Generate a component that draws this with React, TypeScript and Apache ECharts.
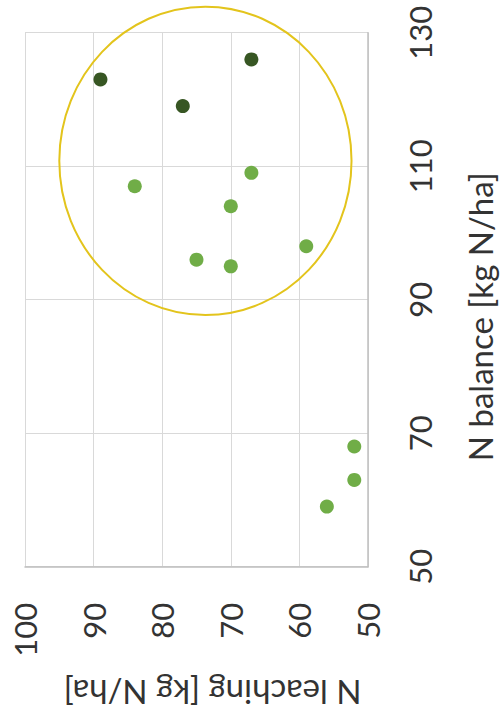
import React, { useEffect, useRef } from "react";
import * as echarts from "echarts";

// [N leaching, N balance] in kg N/ha
const darkPoints: number[][] = [
  [89, 123],
  [67, 126],
  [77, 119],
];
const lightPoints: number[][] = [
  [84, 107],
  [67, 109],
  [70, 104],
  [59, 98],
  [75, 96],
  [70, 95],
  [52, 68],
  [52, 63],
  [56, 59],
];
// highlight ellipse: [centre leaching, centre balance, radius leaching, radius balance]
const highlight: number[][] = [[73.7, 110.8, 21.3, 23.1]];

const leachingTicks = { min: 50, max: 100, interval: 10 };
const balanceTicks = { min: 50, max: 130, interval: 20 };

const FONT = "Lato";
const LABEL_COLOR = "#333333";

export default function App() {
  const ref = useRef<HTMLDivElement>(null);
  useEffect(() => {
    if (!ref.current) return;
    const chart = echarts.init(ref.current, null, { renderer: "svg" });
    chart.setOption({
      animation: false,
      backgroundColor: "#ffffff",
      grid: { left: 25, top: 32.7, right: 127, bottom: 153.3, containLabel: false },
      xAxis: {
        type: "value",
        ...leachingTicks,
        inverse: true,
        position: "bottom",
        name: "N leaching [kg N/ha]",
        nameLocation: "middle",
        nameRotate: 180,
        nameGap: 110,
        nameTextStyle: { fontFamily: FONT, fontSize: 33, color: LABEL_COLOR, padding: [0, 32, 0, 0] },
        axisLine: { show: true, lineStyle: { color: "#BFBFBF", width: 1.5 } },
        axisTick: { show: false },
        axisLabel: { rotate: 90, margin: 36, fontFamily: FONT, fontSize: 31, color: LABEL_COLOR },
        splitLine: { show: true, lineStyle: { color: "#D9D9D9", width: 1 } },
      },
      yAxis: {
        type: "value",
        ...balanceTicks,
        position: "right",
        name: "N balance [kg N/ha]",
        nameLocation: "middle",
        nameRotate: 90,
        nameGap: 95,
        nameTextStyle: { fontFamily: FONT, fontSize: 33, color: LABEL_COLOR, padding: [0, 34, 0, 0] },
        axisLine: { show: true, lineStyle: { color: "#BFBFBF", width: 1.5 } },
        axisTick: { show: false },
        axisLabel: { rotate: 90, margin: 36, fontFamily: FONT, fontSize: 31, color: LABEL_COLOR },
        splitLine: { show: true, lineStyle: { color: "#D9D9D9", width: 1 } },
      },
      series: [
        {
          type: "custom",
          clip: false,
          silent: true,
          z: 1,
          data: highlight,
          renderItem: (params: any, api: any) => {
            const c = api.coord([api.value(0), api.value(1)]);
            const ex = api.coord([api.value(0) - api.value(2), api.value(1)]);
            const ey = api.coord([api.value(0), api.value(1) + api.value(3)]);
            return {
              type: "ellipse",
              shape: { cx: c[0], cy: c[1], rx: Math.abs(ex[0] - c[0]), ry: Math.abs(ey[1] - c[1]) },
              style: { fill: "none", stroke: "#E3C41C", lineWidth: 2 },
            };
          },
        },
        {
          type: "scatter",
          z: 3,
          data: lightPoints,
          symbol: "circle",
          symbolSize: 14,
          itemStyle: { color: "#70AD47", opacity: 1 },
        },
        {
          type: "scatter",
          z: 3,
          data: darkPoints,
          symbol: "circle",
          symbolSize: 14,
          itemStyle: { color: "#375623", opacity: 1 },
        },
      ],
    });
    return () => chart.dispose();
  }, []);
  return (
    <div
      ref={ref}
      style={{ position: "fixed", left: 0, top: 0, width: 504, height: 720 }}
    />
  );
}
